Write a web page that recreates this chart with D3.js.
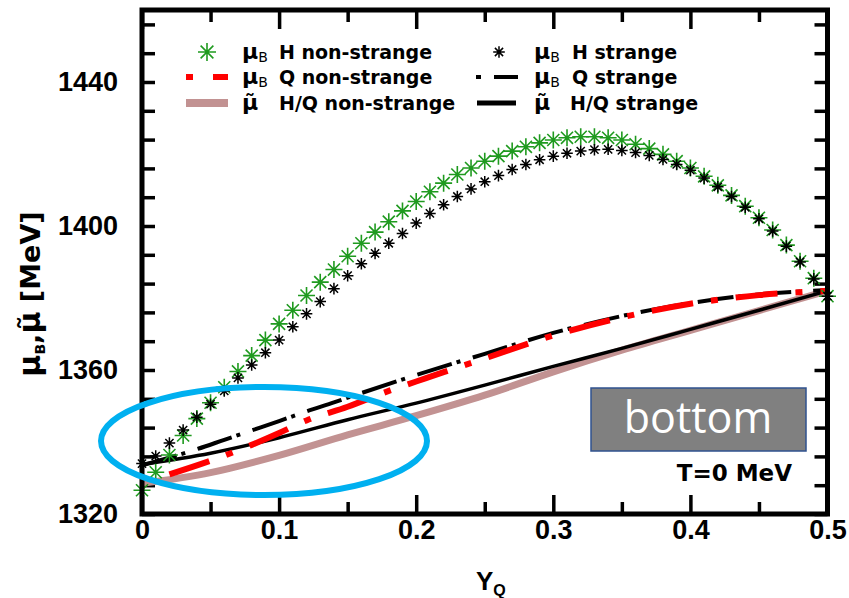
<!DOCTYPE html>
<html>
<head>
<meta charset="utf-8">
<script src="https://cdn.jsdelivr.net/npm/d3@7"></script>
<style>
  html, body { margin: 0; padding: 0; background: #fff; }
  svg { display: block; }
</style>
</head>
<body>
<svg id="chart" width="849" height="598"></svg>
<script>
// Charge fraction grid (Y_Q) for the hadronic point series
const yQ = [0.00,0.01,0.02,0.03,0.04,0.05,0.06,0.07,0.08,0.09,
            0.10,0.11,0.12,0.13,0.14,0.15,0.16,0.17,0.18,0.19,
            0.20,0.21,0.22,0.23,0.24,0.25,0.26,0.27,0.28,0.29,
            0.30,0.31,0.32,0.33,0.34,0.35,0.36,0.37,0.38,0.39,
            0.40,0.41,0.42,0.43,0.44,0.45,0.46,0.47,0.48,0.49,0.50];

// mu_B, hadronic phase, non-strange (MeV)
const muBHNonStrange = [1326.6,1331.6,1336.4,1341.8,1346.5,1350.9,1355.2,1359.6,1364.0,1368.3,
                        1372.8,1376.6,1380.7,1384.4,1387.9,1391.6,1395.2,1398.3,1401.2,1404.2,
                        1406.8,1409.5,1411.9,1414.3,1416.1,1418.0,1419.4,1420.8,1422.0,1423.1,
                        1423.9,1424.5,1424.8,1424.8,1424.5,1423.9,1422.7,1421.5,1419.9,1418.0,
                        1416.1,1413.8,1411.3,1408.5,1405.5,1402.3,1398.9,1394.7,1390.2,1385.5,1380.5];

// mu_B, hadronic phase, strange (MeV)
const muBHStrange = [1334.0,1336.1,1339.7,1343.3,1346.9,1350.5,1354.2,1357.8,1361.4,1364.8,
                     1368.3,1372.0,1375.6,1379.0,1382.6,1386.2,1389.5,1392.4,1395.2,1397.9,
                     1400.8,1403.5,1405.9,1408.2,1410.3,1412.3,1414.0,1415.7,1417.1,1418.4,
                     1419.4,1420.2,1420.8,1421.2,1421.3,1421.0,1420.4,1419.6,1418.5,1417.1,
                     1415.5,1413.3,1410.9,1408.2,1405.2,1402.0,1398.6,1394.4,1390.0,1385.3,1380.5];

// mu_B, quark phase, non-strange
const muBQNonStrangeY = [0.02, 0.05, 0.08, 0.10, 0.12, 0.15, 0.18, 0.20, 0.22, 0.25, 0.30, 0.35, 0.40, 0.45, 0.50];
const muBQNonStrange  = [1331.0,1334.8,1339.2,1342.5,1346.0,1349.8,1354.2,1356.8,1359.4,1363.2,1369.6,1374.6,1378.4,1380.8,1382.0];

// mu_B, quark phase, strange
const muBQStrangeY = [0.00, 0.04, 0.06, 0.08, 0.10, 0.12, 0.14, 0.16, 0.20, 0.25, 0.30, 0.35, 0.40, 0.45, 0.50];
const muBQStrange  = [1333.5,1338.0,1340.6,1343.2,1345.8,1348.5,1351.0,1353.6,1358.6,1364.5,1370.3,1375.0,1378.6,1381.0,1382.2];

// mu-tilde, H/Q mixed, non-strange
const muTNonStrangeY = [0.00, 0.05, 0.10, 0.15, 0.20, 0.25, 0.30, 0.35, 0.40, 0.45, 0.50];
const muTNonStrange  = [1328.5,1331.5,1336.3,1342.0,1347.3,1353.0,1359.5,1365.5,1371.0,1376.5,1382.0];

// mu-tilde, H/Q mixed, strange
const muTStrangeY = [0.00, 0.05, 0.10, 0.15, 0.20, 0.25, 0.30, 0.35, 0.40, 0.45, 0.50];
const muTStrange  = [1333.8,1336.9,1341.2,1346.2,1350.8,1355.8,1361.0,1366.0,1371.3,1376.6,1382.0];

// Axis ticks
const xMajor = [0, 0.1, 0.2, 0.3, 0.4, 0.5];
const xMinor = [0.05, 0.15, 0.25, 0.35, 0.45];
const yLabels = [1320, 1360, 1400, 1440];
const yTicks = [1320,1328,1336,1344,1352,1360,1368,1376,1384,1392,1400,1408,1416,1424,1432,1440,1448,1456];

const svg = d3.select("#chart");
const X0 = 142, X1 = 827.5, Ytop = 10, Ybot = 514;
const x = d3.scaleLinear().domain([0, 0.5]).range([X0, X1]);
const y = d3.scaleLinear().domain([1320, 1460]).range([Ybot, Ytop]);

const GREEN = "#1f9a1f", RED = "#ff0000", PINK = "#c29292";
const TF = "'Liberation Sans', Arial, Helvetica, sans-serif";

// ---- ticks (inward on all four sides) ----
const tickG = svg.append("g");
function ticks(axis, translate) {
  const g = tickG.append("g").attr("transform", translate).call(axis);
  g.select(".domain").remove();
  g.attr("font-family", TF).attr("font-size", 27).attr("font-weight", "bold");
  g.selectAll(".tick line").attr("stroke", "#000").attr("stroke-width", 3.5);
  g.selectAll(".tick text").attr("fill", "#000");
  return g;
}
const fmtX = d3.format("~g");
ticks(d3.axisBottom(x).tickValues(xMajor).tickSize(-19).tickPadding(6).tickFormat(fmtX), `translate(0,${Ybot})`);
ticks(d3.axisBottom(x).tickValues(xMinor).tickSize(-12).tickFormat(""), `translate(0,${Ybot})`);
ticks(d3.axisTop(x).tickValues(xMajor).tickSize(-19).tickFormat(""), `translate(0,${Ytop})`);
ticks(d3.axisTop(x).tickValues(xMinor).tickSize(-12).tickFormat(""), `translate(0,${Ytop})`);
ticks(d3.axisLeft(y).tickValues(yTicks).tickSize(-13).tickFormat(""), `translate(${X0},0)`);
ticks(d3.axisRight(y).tickValues(yTicks).tickSize(-13).tickFormat(""), `translate(${X1},0)`);
ticks(d3.axisLeft(y).tickValues(yLabels).tickSize(0).tickPadding(24).tickFormat(d3.format("d")), `translate(${X0},0)`);

// ---- curves ----
const plot = svg.append("g");
const line = d3.line().x(d => x(d[0])).y(d => y(d[1])).curve(d3.curveMonotoneX);
const pairs = (xs, ys) => xs.map((v, i) => [v, ys[i]]);

plot.append("path").attr("d", line(pairs(muTNonStrangeY, muTNonStrange)))
  .attr("fill", "none").attr("stroke", PINK).attr("stroke-width", 7);
plot.append("path").attr("d", line(pairs(muTStrangeY, muTStrange)))
  .attr("fill", "none").attr("stroke", "#000").attr("stroke-width", 3.5);
plot.append("path").attr("d", line(pairs(muBQStrangeY, muBQStrange)))
  .attr("fill", "none").attr("stroke", "#000").attr("stroke-width", 4)
  .attr("stroke-dasharray", "36 5 4 13");
plot.append("path").attr("d", line(pairs(muBQNonStrangeY, muBQNonStrange)))
  .attr("fill", "none").attr("stroke", RED).attr("stroke-width", 6)
  .attr("stroke-dasharray", "42 18 7 18");

// star markers: "+" and "x" arms
function starPath(r) {
  const d = r * Math.SQRT1_2;
  return `M${-r},0L${r},0M0,${-r}L0,${r}M${-d},${-d}L${d},${d}M${-d},${d}L${d},${-d}`;
}
plot.append("g").selectAll("path").data(pairs(yQ, muBHNonStrange)).join("path")
  .attr("transform", d => `translate(${x(d[0])},${y(d[1])})`)
  .attr("d", starPath(8.5)).attr("stroke", GREEN).attr("stroke-width", 1.6).attr("fill", "none");
plot.append("g").selectAll("path").data(pairs(yQ, muBHStrange)).join("path")
  .attr("transform", d => `translate(${x(d[0])},${y(d[1])})`)
  .attr("d", starPath(5.8)).attr("stroke", "#000").attr("stroke-width", 1.5).attr("fill", "none");

// ---- frame ----
svg.append("rect").attr("x", X0).attr("y", Ytop).attr("width", X1 - X0).attr("height", Ybot - Ytop)
  .attr("fill", "none").attr("stroke", "#000").attr("stroke-width", 5);

// ---- legend ----
const LF = "'DejaVu Sans', Verdana, sans-serif";
const leg = svg.append("g").attr("font-family", LF).attr("font-weight", "bold").attr("font-size", 19).attr("fill", "#000");
const rows = [52, 77, 103];
function muLabel(g, xPos, yPos, tilde, rest, restX) {
  const t = g.append("text").attr("x", xPos).attr("y", yPos + 7);
  if (tilde) {
    t.append("tspan").attr("font-size", 22).text("\u03BC\u0303");
  } else {
    t.append("tspan").attr("font-size", 22).text("\u03BC");
    t.append("tspan").attr("font-size", 14).attr("font-weight", "normal").attr("dy", 3).text("B");
  }
  g.append("text").attr("x", restX).attr("y", yPos + 7).text(rest);
}
// column 1
leg.append("path").attr("transform", `translate(207,${rows[0]})`).attr("d", starPath(9))
  .attr("stroke", GREEN).attr("stroke-width", 1.6).attr("fill", "none");
muLabel(leg, 242, rows[0], false, "H non-strange", 279);
leg.append("line").attr("x1", 186).attr("x2", 228).attr("y1", rows[1]).attr("y2", rows[1])
  .attr("stroke", RED).attr("stroke-width", 6).attr("stroke-dasharray", "7 20 15");
muLabel(leg, 242, rows[1], false, "Q non-strange", 279);
leg.append("line").attr("x1", 186).attr("x2", 228).attr("y1", rows[2]).attr("y2", rows[2])
  .attr("stroke", PINK).attr("stroke-width", 8);
muLabel(leg, 242, rows[2], true, "H/Q non-strange", 279);
// column 2
leg.append("path").attr("transform", `translate(499,${rows[0]})`).attr("d", starPath(5.8))
  .attr("stroke", "#000").attr("stroke-width", 1.5).attr("fill", "none");
muLabel(leg, 534, rows[0], false, "H strange", 572);
leg.append("line").attr("x1", 476).attr("x2", 518).attr("y1", rows[1]).attr("y2", rows[1])
  .attr("stroke", "#000").attr("stroke-width", 4).attr("stroke-dasharray", "5 13 24");
muLabel(leg, 534, rows[1], false, "Q strange", 572);
leg.append("line").attr("x1", 477).attr("x2", 516).attr("y1", rows[2]).attr("y2", rows[2])
  .attr("stroke", "#000").attr("stroke-width", 5);
muLabel(leg, 534, rows[2], true, "H/Q strange", 570);

// ---- annotations ----
svg.append("text").attr("x", 792).attr("y", 481).attr("text-anchor", "end")
  .attr("font-family", LF).attr("font-weight", "bold").attr("font-size", 23).text("T=0 MeV");

svg.append("rect").attr("x", 591).attr("y", 388).attr("width", 215).attr("height", 63)
  .attr("fill", "#808080").attr("stroke", "#2f528f").attr("stroke-width", 1.5);
svg.append("text").attr("x", 698).attr("y", 433).attr("text-anchor", "middle")
  .attr("font-family", "'Open Sans', sans-serif").attr("font-size", 43).attr("fill", "#fff").text("bottom");

svg.append("ellipse").attr("cx", 264).attr("cy", 441).attr("rx", 163).attr("ry", 54)
  .attr("fill", "none").attr("stroke", "#00b0f0").attr("stroke-width", 6);

// ---- axis titles ----
const xt = svg.append("text").attr("x", 476).attr("y", 590)
  .attr("font-family", TF).attr("font-weight", "bold").attr("font-size", 26);
xt.append("tspan").text("Y");
xt.append("tspan").attr("font-size", 16).attr("dy", 6).text("Q");

const yt = svg.append("text").attr("transform", "translate(40,294) rotate(-90)").attr("text-anchor", "middle")
  .attr("font-family", LF).attr("font-weight", "bold").attr("font-size", 27);
yt.append("tspan").attr("font-size", 30).text("\u03BC");
yt.append("tspan").attr("font-size", 14).attr("dy", 5).text("B");
yt.append("tspan").attr("dy", -5).text(",");
yt.append("tspan").attr("font-size", 30).text("\u03BC\u0303");
yt.append("tspan").text(" [MeV]");
</script>
</body>
</html>
